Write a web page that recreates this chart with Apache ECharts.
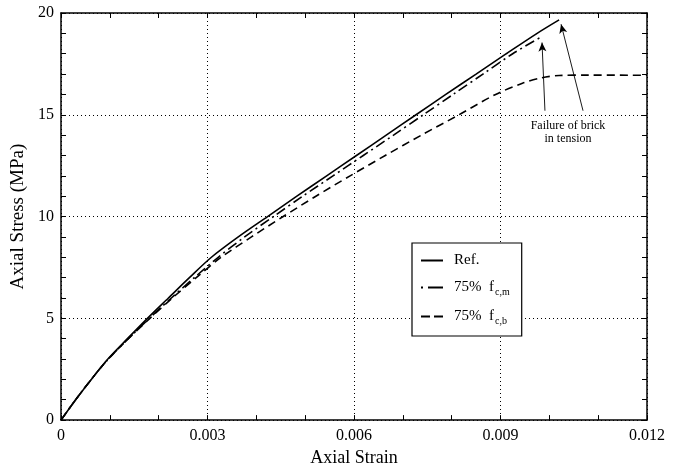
<!DOCTYPE html>
<html>
<head>
<meta charset="utf-8">
<script src="https://cdn.jsdelivr.net/npm/echarts@6/dist/echarts.min.js"></script>
<style>
  html, body { margin: 0; padding: 0; background: #fff; }
  #chart { width: 680px; height: 472px; }
</style>
</head>
<body>
<div id="chart"></div>
<script>
// axial strain and axial stress (MPa) for each curve
const refStrain = [0, 0.0003, 0.00062, 0.00096, 0.00136, 0.00177, 0.0022, 0.00263, 0.00308, 0.00363, 0.00423, 0.00483, 0.00544, 0.00605, 0.00666, 0.00727, 0.00788, 0.0085, 0.00912, 0.00975, 0.0102];
const refStress = [0, 1, 2, 3, 4, 5, 6, 7, 8, 9, 10, 11, 12, 13, 14, 15, 16, 17, 18, 19, 19.66];

const fcmStrain = [0, 0.0003, 0.00062, 0.00097, 0.00138, 0.00181, 0.00226, 0.00273, 0.00322, 0.00376, 0.00435, 0.00495, 0.00557, 0.00619, 0.00681, 0.00742, 0.00803, 0.00864, 0.00925, 0.0098];
const fcmStress = [0, 1, 2, 3, 4, 5, 6, 7, 8, 9, 10, 11, 12, 13, 14, 15, 16, 17, 18, 18.78];

const fcbStrain = [0, 0.0003, 0.00062, 0.00097, 0.00138, 0.00182, 0.00228, 0.00277, 0.00328, 0.0039, 0.00455, 0.00522, 0.00592, 0.00664, 0.00738, 0.00815, 0.0089, 0.00945, 0.00985, 0.0102, 0.0108, 0.012];
const fcbStress = [0, 1, 2, 3, 4, 5, 6, 7, 8, 9, 10, 11, 12, 13, 14, 15, 16, 16.55, 16.82, 16.93, 16.95, 16.94];

const xTicks = [0, 0.003, 0.006, 0.009, 0.012];
const legendNames = ['Ref.', '75%  f{s|c,m}', '75%  f{s|c,b}'];

const pairs = (xs, ys) => xs.map((x, i) => [x, ys[i]]);

const chart = echarts.init(document.getElementById('chart'));
const font = 'Liberation Serif';

const axisCommon = {
  axisLine: { show: true, onZero: false, lineStyle: { color: '#000', width: 1.5 } },
  axisTick: { show: true, inside: true, length: 5, lineStyle: { color: '#000' } },
  minorTick: { show: true, length: 5, lineStyle: { color: '#000' } },
};
const dotted = { show: true, lineStyle: { color: '#000', type: [1, 3], width: 1 } };
const arrowLine = (from, to) => ({
  silent: true, symbol: ['none', 'arrow'], symbolSize: [6, 9],
  label: { show: false },
  lineStyle: { color: '#000', width: 0.9, type: 'solid' },
  data: [[{ coord: from }, { coord: to }]]
});

chart.setOption({
  animation: false,
  textStyle: { fontFamily: font },
  grid: { left: 61, right: 33, top: 13, bottom: 49 },
  legend: {
    data: [
      { name: legendNames[0] },
      { name: legendNames[1], lineStyle: { type: [2, 5, 15, 0] } },
      { name: legendNames[2], lineStyle: { type: [9, 4] } }
    ],
    orient: 'vertical',
    left: 412, top: 243,
    itemWidth: 22, itemHeight: 14,
    itemGap: 12,
    padding: [10, 12, 10, 8],
    borderColor: '#000', borderWidth: 1.2,
    backgroundColor: '#fff',
    itemStyle: { opacity: 0 },
    textStyle: {
      fontFamily: font, fontSize: 15, color: '#000', padding: [0, 0, 0, 6],
      rich: { s: { fontFamily: font, fontSize: 10, verticalAlign: 'bottom', padding: [9, 0, 0, 1] } }
    }
  },
  xAxis: [{
    type: 'value', min: 0, max: 0.012, interval: 0.003,
    name: 'Axial Strain', nameLocation: 'middle', nameGap: 27,
    nameTextStyle: { fontFamily: font, fontSize: 18, color: '#000' },
    ...axisCommon,
    minorTick: { ...axisCommon.minorTick, splitNumber: 3 },
    axisLabel: {
      fontFamily: font, fontSize: 16, color: '#000', margin: 8,
      formatter: v => {
        const t = xTicks.find(k => Math.abs(k - v) < 1e-9);
        return t === 0 ? '0' : t.toFixed(3);
      }
    },
    splitLine: dotted
  }, {
    type: 'value', position: 'top', min: 0, max: 0.012, interval: 0.003,
    ...axisCommon,
    minorTick: { ...axisCommon.minorTick, splitNumber: 3 },
    axisLabel: { show: false },
    splitLine: { show: false }
  }],
  yAxis: [{
    type: 'value', min: 0, max: 20, interval: 5,
    name: 'Axial Stress (MPa)', nameLocation: 'middle', nameGap: 28,
    nameTextStyle: { fontFamily: font, fontSize: 19, color: '#000' },
    ...axisCommon,
    minorTick: { ...axisCommon.minorTick, splitNumber: 5 },
    axisLabel: { fontFamily: font, fontSize: 16, color: '#000', margin: 7 },
    splitLine: dotted
  }, {
    type: 'value', position: 'right', min: 0, max: 20, interval: 5,
    ...axisCommon,
    minorTick: { ...axisCommon.minorTick, splitNumber: 5 },
    axisLabel: { show: false },
    splitLine: { show: false }
  }],
  graphic: [{
    type: 'text', x: 568, y: 119,
    style: {
      text: 'Failure of brick\nin tension', align: 'center', textAlign: 'center',
      font: '12px "Liberation Serif"', fill: '#000', lineHeight: 13
    }
  }],
  series: [{
    name: legendNames[0], type: 'line', data: pairs(refStrain, refStress),
    symbol: 'none', smooth: 0.3,
    lineStyle: { color: '#000', width: 1.6, type: 'solid' },
    itemStyle: { color: '#000' },
    markLine: arrowLine([0.01069, 15.2], [0.01024, 19.45])
  }, {
    name: legendNames[1], type: 'line', data: pairs(fcmStrain, fcmStress),
    symbol: 'none', smooth: 0.3,
    lineStyle: { color: '#000', width: 1.6, type: [10, 4, 2, 4] },
    itemStyle: { color: '#000' },
    markLine: arrowLine([0.00991, 15.2], [0.00985, 18.55])
  }, {
    name: legendNames[2], type: 'line', data: pairs(fcbStrain, fcbStress),
    symbol: 'none', smooth: 0.3,
    lineStyle: { color: '#000', width: 1.6, type: [8, 5] },
    itemStyle: { color: '#000' }
  }]
});
</script>
</body>
</html>
